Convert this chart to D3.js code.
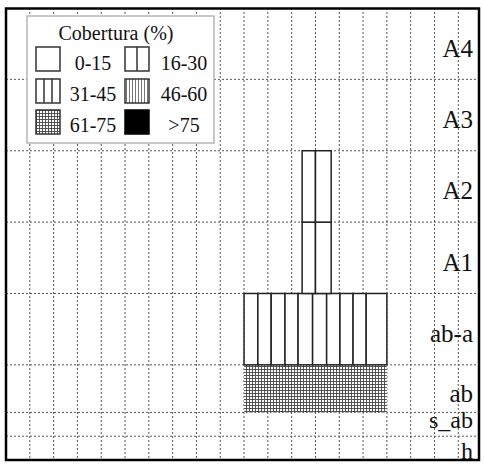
<!DOCTYPE html>
<html>
<head>
<meta charset="utf-8">
<script src="https://cdn.jsdelivr.net/npm/d3@7"></script>
<style>
  body { margin: 0; background: #fff; }
  text { font-family: "Liberation Serif", "DejaVu Serif", serif; fill: #111; }
</style>
</head>
<body>
<div id="chart"></div>
<script>
// strata, from the ground up, with their upper limit (m)
const strata = ["h", "s_ab", "ab", "ab-a", "A1", "A2", "A3", "A4"];
const strataTop = [1, 2, 4, 7, 10, 13, 16, 19];

const coverClasses = ["0-15", "16-30", "31-45", "46-60", "61-75", ">75"];

// segments along the transect (m)
const segStratum = ["ab", "ab-a", "ab-a", "ab-a", "ab-a", "ab-a", "ab-a", "ab-a", "ab-a", "ab-a", "ab-a",
  "A1", "A1", "A2", "A2"];
const segStart = [10, 10, 10.58, 11.14, 11.72, 12.27, 12.88, 13.47, 14.03, 14.58, 15.13,
  12.44, 13, 12.44, 13];
const segEnd = [16, 10.58, 11.14, 11.72, 12.27, 12.88, 13.47, 14.03, 14.58, 15.13, 16,
  13, 13.66, 13, 13.66];
const segCover = ["61-75", "31-45", "31-45", "31-45", "31-45", "31-45", "31-45", "31-45", "31-45", "31-45", "31-45",
  "16-30", "16-30", "16-30", "16-30"];

const transectLength = 19.87;
const gridX = d3.range(1, 20);

const W = 484, H = 466;
const box = { left: 6, right: 479, top: 8, bottom: 460 };

const svg = d3.select("#chart").append("svg")
  .attr("width", W).attr("height", H);

const defs = svg.append("defs");

// cross hatch for 61-75
const cross = defs.append("pattern").attr("id", "cross")
  .attr("patternUnits", "userSpaceOnUse").attr("width", 3).attr("height", 3);
cross.append("rect").attr("width", 3).attr("height", 3).attr("fill", "#fff");
cross.append("path").attr("d", "M0,0.5H3M0.5,0V3")
  .attr("stroke", "#444").attr("stroke-width", 0.9);

// fine vertical lines for 46-60
const vert = defs.append("pattern").attr("id", "vert")
  .attr("patternUnits", "userSpaceOnUse").attr("width", 3).attr("height", 3);
vert.append("rect").attr("width", 3).attr("height", 3).attr("fill", "#fff");
vert.append("path").attr("d", "M1.5,0V3")
  .attr("stroke", "#555").attr("stroke-width", 0.8);

function coverFill(c) {
  if (c === "61-75") return "url(#cross)";
  if (c === "46-60") return "url(#vert)";
  if (c === ">75") return "#000";
  return "#fff";
}

const x = d3.scaleLinear().domain([0, transectLength]).range([box.left, box.right]);
const y = d3.scaleLinear().domain([0, d3.max(strataTop)]).range([box.bottom, box.top]);

const strataBottom = strataTop.map((t, i) => (i === 0 ? 0 : strataTop[i - 1]));
const stratumIndex = (s) => strata.indexOf(s);

// grid
const grid = svg.append("g")
  .attr("stroke", "#555").attr("stroke-width", 1).attr("stroke-dasharray", "2,2");
grid.selectAll("line.v").data(gridX).join("line").attr("class", "v")
  .attr("x1", (d) => x(d)).attr("x2", (d) => x(d))
  .attr("y1", box.top).attr("y2", box.bottom);
grid.selectAll("line.h").data(strataTop.slice(0, -1)).join("line").attr("class", "h")
  .attr("x1", box.left).attr("x2", box.right)
  .attr("y1", (d) => y(d)).attr("y2", (d) => y(d));

// segments
const segs = segStratum.map((s, i) => ({
  stratum: s, x0: segStart[i], x1: segEnd[i], cover: segCover[i]
}));

svg.append("g").selectAll("rect").data(segs).join("rect")
  .attr("x", (d) => x(d.x0))
  .attr("width", (d) => x(d.x1) - x(d.x0))
  .attr("y", (d) => y(strataTop[stratumIndex(d.stratum)]))
  .attr("height", (d) => y(strataBottom[stratumIndex(d.stratum)]) - y(strataTop[stratumIndex(d.stratum)]))
  .attr("fill", (d) => coverFill(d.cover))
  .attr("stroke", (d) => (d.cover === "61-75" ? "none" : "#222"))
  .attr("stroke-width", 1.5);

// stratum labels
svg.append("g").selectAll("text").data(strata).join("text")
  .attr("x", 473)
  .attr("y", (d, i) => {
    const mid = (y(strataTop[i]) + y(strataBottom[i])) / 2;
    if (i === 0) return y(strataBottom[i]) - 1;
    return Math.min(mid + 13, y(strataBottom[i]) - 8);
  })
  .attr("text-anchor", "end")
  .attr("font-size", (d, i) => (i < 2 ? 24 : 25))
  .text((d) => d);

// frame
svg.append("rect")
  .attr("x", box.left).attr("y", box.top + 0.5)
  .attr("width", box.right - box.left).attr("height", box.bottom - box.top - 0.5)
  .attr("fill", "none").attr("stroke", "#000").attr("stroke-width", 2.5);

// legend
const legend = svg.append("g");
legend.append("rect")
  .attr("x", 27).attr("y", 16).attr("width", 187).attr("height", 127)
  .attr("fill", "#fff").attr("stroke", "#b5b5b5").attr("stroke-width", 1.5);
legend.append("text")
  .attr("x", 116).attr("y", 40).attr("text-anchor", "middle")
  .attr("font-size", 20).text("Cobertura (%)");

const colX = [36, 125], colText = [93, 184];
const rowY = [47, 79, 110], rowText = [70, 101, 132];
const divisions = { "0-15": 1, "16-30": 2, "31-45": 3 };

const items = legend.selectAll("g.item").data(coverClasses).join("g")
  .attr("class", "item")
  .attr("transform", (d, i) => `translate(${colX[i % 2]},${rowY[Math.floor(i / 2)]})`);

items.append("rect")
  .attr("width", 24).attr("height", 24)
  .attr("fill", (d) => coverFill(d))
  .attr("stroke", (d) => (d === ">75" ? "#000" : "#333"))
  .attr("stroke-width", 1.5);

items.each(function (d) {
  const n = divisions[d] || 1;
  d3.select(this).selectAll("line").data(d3.range(1, n)).join("line")
    .attr("x1", (k) => (24 * k) / n).attr("x2", (k) => (24 * k) / n)
    .attr("y1", 0).attr("y2", 24)
    .attr("stroke", "#333").attr("stroke-width", 1.5);
});

legend.selectAll("text.lab").data(coverClasses).join("text")
  .attr("class", "lab")
  .attr("x", (d, i) => colText[i % 2])
  .attr("y", (d, i) => rowText[Math.floor(i / 2)])
  .attr("text-anchor", "middle")
  .attr("font-size", 20)
  .text((d) => d);
</script>
</body>
</html>
